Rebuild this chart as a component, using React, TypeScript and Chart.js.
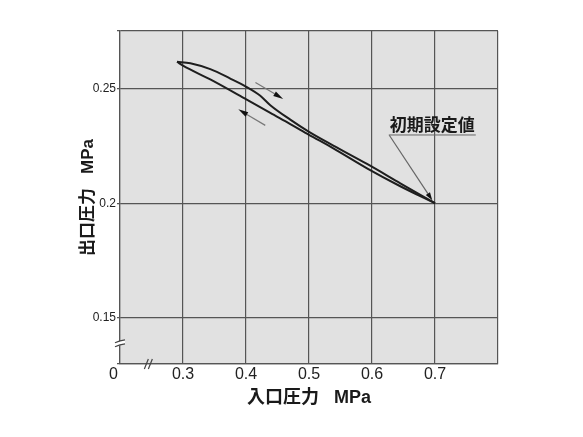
import React, { useEffect, useRef } from "react";
import { Chart, registerables } from "chart.js";

Chart.register(...registerables);

// Hysteresis loop: outlet pressure vs inlet pressure
const upX = [0.2905, 0.3116, 0.3433, 0.3751, 0.4005, 0.4227, 0.4386, 0.4703, 0.4994, 0.5386, 0.5921, 0.6449, 0.7];
const upY = [0.2616, 0.261, 0.2584, 0.2543, 0.2507, 0.2468, 0.2427, 0.2364, 0.2312, 0.2251, 0.2171, 0.2087, 0.2];
const downX = [0.2905, 0.3, 0.3433, 0.4005, 0.4386, 0.4703, 0.4994, 0.5386, 0.5921, 0.6449, 0.7];
const downY = [0.2616, 0.2599, 0.2539, 0.2452, 0.2393, 0.2345, 0.2299, 0.2239, 0.2152, 0.2074, 0.2];

const xTicks = [0.2, 0.3, 0.4, 0.5, 0.6, 0.7, 0.8];
const xTickLabels = ["0   ", "0.3", "0.4", "0.5", "0.6", "0.7", ""];
const yTicks = [0.13, 0.15, 0.2, 0.25, 0.275];
const yTickLabels = ["", "0.15", "0.2", "0.25", ""];

const xTitle = "入口圧力   MPa";
const yTitle = "出口圧力   MPa";
const noteText = "初期設定値";
const noteAt = [0.6957, 0.2343];
const leaderFrom = [0.6275, 0.2296];
const leaderTo = [0.6957, 0.2013];
const flowArrows = [
  [0.415, 0.2526, 0.459, 0.2454],
  [0.4306, 0.2339, 0.3878, 0.2409],
];
const xBreakAt = 0.245;
const yBreakAt = 0.139;

const SANS = '"Liberation Sans", Arial, sans-serif';
const MIX = '"Liberation Sans", "Noto Sans CJK JP", sans-serif';
const CJK = '"Noto Sans CJK JP", "Liberation Sans", sans-serif';

function arrow(ctx: CanvasRenderingContext2D, x1: number, y1: number, x2: number, y2: number, headLen: number, headW: number, lineColor: string) {
  const ang = Math.atan2(y2 - y1, x2 - x1);
  const bx = x2 - Math.cos(ang) * headLen;
  const by = y2 - Math.sin(ang) * headLen;
  ctx.save();
  ctx.strokeStyle = lineColor;
  ctx.lineWidth = 1.2;
  ctx.beginPath();
  ctx.moveTo(x1, y1);
  ctx.lineTo(bx, by);
  ctx.stroke();
  ctx.fillStyle = "#111";
  ctx.beginPath();
  ctx.moveTo(x2, y2);
  ctx.lineTo(bx + Math.sin(ang) * headW, by - Math.cos(ang) * headW);
  ctx.lineTo(bx - Math.sin(ang) * headW, by + Math.cos(ang) * headW);
  ctx.closePath();
  ctx.fill();
  ctx.restore();
}

const decorPlugin = {
  id: "decor",
  beforeDraw(chart: any) {
    const { ctx, chartArea: a } = chart;
    ctx.save();
    ctx.fillStyle = "#ffffff";
    ctx.fillRect(0, 0, chart.width, chart.height);
    ctx.fillStyle = "#e1e1e1";
    ctx.fillRect(a.left, a.top, a.right - a.left, a.bottom - a.top);
    ctx.restore();
  },
  afterDraw(chart: any) {
    const { ctx, chartArea: a } = chart;
    const xs = chart.scales.x;
    const ys = chart.scales.y;
    for (const f of flowArrows) {
      arrow(ctx, xs.getPixelForValue(f[0]), ys.getPixelForValue(f[1]), xs.getPixelForValue(f[2]), ys.getPixelForValue(f[3]), 10, 2.6, "#777");
    }
    const tx = xs.getPixelForValue(noteAt[0]);
    const ty = ys.getPixelForValue(noteAt[1]);
    ctx.save();
    ctx.font = `bold 17px ${CJK}`;
    ctx.fillStyle = "#1a1a1a";
    ctx.textAlign = "center";
    ctx.textBaseline = "middle";
    ctx.fillText(noteText, tx, ty);
    const w = ctx.measureText(noteText).width;
    ctx.strokeStyle = "#666";
    ctx.lineWidth = 1;
    ctx.beginPath();
    ctx.moveTo(tx - w / 2 - 1, ty + 10.5);
    ctx.lineTo(tx + w / 2 + 1, ty + 10.5);
    ctx.stroke();
    ctx.restore();
    arrow(ctx, xs.getPixelForValue(leaderFrom[0]), ys.getPixelForValue(leaderFrom[1]), xs.getPixelForValue(leaderTo[0]), ys.getPixelForValue(leaderTo[1]), 8, 2.5, "#666");
    ctx.save();
    const by = ys.getPixelForValue(yBreakAt);
    ctx.fillStyle = "#ffffff";
    ctx.beginPath();
    ctx.moveTo(a.left - 5, by - 0.5);
    ctx.lineTo(a.left + 5, by - 3.5);
    ctx.lineTo(a.left + 5, by + 0.5);
    ctx.lineTo(a.left - 5, by + 3.5);
    ctx.closePath();
    ctx.fill();
    ctx.strokeStyle = "#444";
    ctx.lineWidth = 1.2;
    ctx.beginPath();
    ctx.moveTo(a.left - 5, by - 0.5);
    ctx.quadraticCurveTo(a.left, by - 3, a.left + 5, by - 3.5);
    ctx.moveTo(a.left - 5, by + 3.5);
    ctx.quadraticCurveTo(a.left, by + 1, a.left + 5, by + 0.5);
    ctx.stroke();
    const bx = xs.getPixelForValue(xBreakAt);
    ctx.beginPath();
    ctx.moveTo(bx - 4, a.bottom + 5);
    ctx.lineTo(bx, a.bottom - 5);
    ctx.moveTo(bx, a.bottom + 5);
    ctx.lineTo(bx + 4, a.bottom - 5);
    ctx.stroke();
    ctx.restore();
  },
};

export default function App() {
  const ref = useRef<HTMLCanvasElement | null>(null);
  useEffect(() => {
    if (!ref.current) return;
    const line = (xs: number[], ys: number[]) => ({
      data: xs.map((x, i) => ({ x, y: ys[i] })),
      borderColor: "#1e1e1e",
      borderWidth: 2,
      pointRadius: 0,
      cubicInterpolationMode: "monotone",
      fill: false,
    });
    const chart = new Chart(ref.current, {
      type: "line",
      data: { datasets: [line(upX, upY), line(downX, downY)] },
      options: {
        animation: false,
        responsive: false,
        devicePixelRatio: 1,
        layout: { padding: { left: 78, top: 31, right: 85, bottom: 0 } },
        plugins: { legend: { display: false }, tooltip: { enabled: false } },
        scales: {
          x: {
            type: "linear",
            min: 0.2,
            max: 0.8,
            afterBuildTicks: (s: any) => {
              s.ticks = xTicks.map((v) => ({ value: v }));
            },
            afterFit: (s: any) => {
              s.height = 73;
            },
            ticks: {
              callback: (_v: any, i: number) => xTickLabels[i],
              font: { family: SANS, size: 16 },
              color: "#222",
              padding: 1,
              maxRotation: 0,
              autoSkip: false,
            },
            grid: { color: "#555", lineWidth: 1.2, drawTicks: false },
            border: { color: "#555", width: 1.2 },
            title: {
              display: true,
              text: xTitle,
              font: { family: MIX, size: 18, weight: "bold" },
              color: "#1a1a1a",
              padding: { top: 0, bottom: 28 },
            },
          },
          y: {
            type: "linear",
            min: 0.13,
            max: 0.275,
            afterBuildTicks: (s: any) => {
              s.ticks = yTicks.map((v) => ({ value: v }));
            },
            afterFit: (s: any) => {
              s.width = 42;
            },
            ticks: {
              callback: (_v: any, i: number) => yTickLabels[i],
              font: { family: SANS, size: 12 },
              color: "#222",
              padding: 1,
              autoSkip: false,
            },
            grid: { color: "#555", lineWidth: 1.2, tickLength: 3 },
            border: { color: "#555", width: 1.2 },
            title: {
              display: true,
              text: yTitle,
              font: { family: MIX, size: 17, weight: "bold" },
              color: "#1a1a1a",
              padding: { top: 0, bottom: 0 },
            },
          },
        },
      },
      plugins: [decorPlugin],
    } as any);
    return () => chart.destroy();
  }, []);
  return (
    <div style={{ position: "fixed", left: 0, top: 0, width: 583, height: 437 }}>
      <canvas ref={ref} width={583} height={437} />
    </div>
  );
}
